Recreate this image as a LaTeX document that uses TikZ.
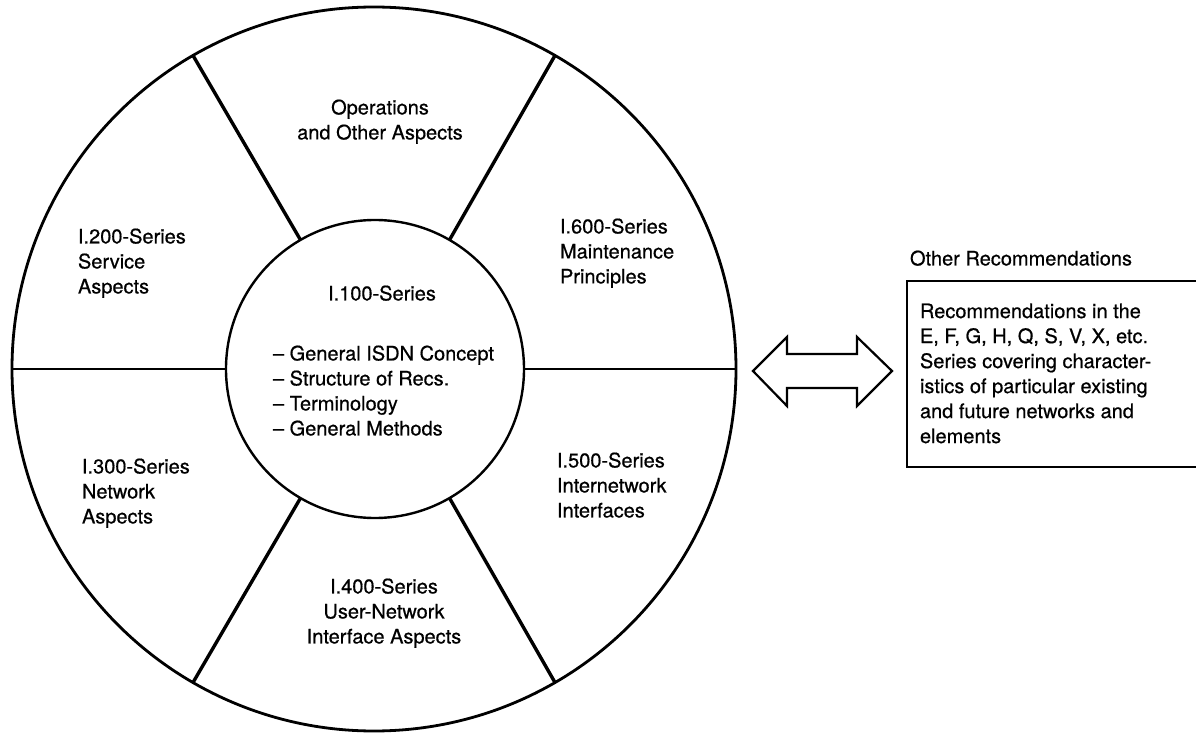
\documentclass[tikz,border=0pt]{standalone}
\usepackage{fontspec}
\setmainfont{TeX Gyre Heros}[FakeBold=0.6]
\begin{document}
\begin{tikzpicture}[x=0.5pt,y=-0.5pt,
  lbl/.style={inner sep=0pt, outer sep=0pt, font=\fontsize{10}{12.5}\selectfont},
  ring/.style={circle, draw, inner sep=0pt, outer sep=0pt},
  spoke/.style={line width=1.7pt},
  hspoke/.style={line width=1.3pt},
  dblarrow/.style={line width=1.1pt, line join=miter}]
\useasboundingbox (0,0) rectangle (1196,733);

% circles
\node[ring, line width=1.4pt, minimum size=362pt] (outer) at (374,369) {};
\node[ring, line width=1.2pt, minimum size=149pt] (inner) at (375,369) {};

% spokes
\foreach \a in {60,120,240,300}
  \draw[spoke] (inner.\a) -- (outer.\a);
\draw[hspoke] (inner.0) -- (outer.0);
\draw[hspoke] (inner.180) -- (outer.180);

% sector labels
\node[lbl, anchor=north, align=center] (ops) at (380,99.5) {Operations\\and Other Aspects};
\node[lbl, anchor=north west, align=left] (s200) at (78,228.5) {I.200-Series\\Service\\Aspects};
\node[lbl, anchor=north west, align=left] (s600) at (560,218.5) {I.600-Series\\Maintenance\\Principles};
\node[lbl, anchor=north] (s100) at (382,285.5) {I.100-Series};
\node[lbl, anchor=north west, align=left] (list) at (273,345.5) {-- General ISDN Concept\\-- Structure of Recs.\\-- Terminology\\-- General Methods};
\node[lbl, anchor=north west, align=left] (s300) at (82,458.5) {I.300-Series\\Network\\Aspects};
\node[lbl, anchor=north west, align=left] (s500) at (557,452.5) {I.500-Series\\Internetwork\\Interfaces};
\node[lbl, anchor=north, align=center] (s400) at (384,578.5) {I.400-Series\\User-Network\\Interface Aspects};

% double arrow
\draw[dblarrow] (753,371) -- (787,337) -- (787,354) -- (857,354) -- (857,337)
  -- (892,371) -- (857,406) -- (857,388) -- (787,388) -- (787,406) -- cycle;

% other recommendations
\node[lbl, anchor=north west] (other) at (910,250.5) {Other Recommendations};
\node[draw, line width=1.3pt, anchor=north west, inner sep=0pt, outer sep=0pt,
      minimum width=151.5pt, minimum height=93pt] (recbox) at (907,281) {};
\node[lbl, anchor=north west, align=left] (boxtext) at (920,303.5)
  {Recommendations in the\\E, F, G, H, Q, S, V, X, etc.\\Series covering character-\\istics of particular existing\\and future networks and\\elements};
\end{tikzpicture}
\end{document}
